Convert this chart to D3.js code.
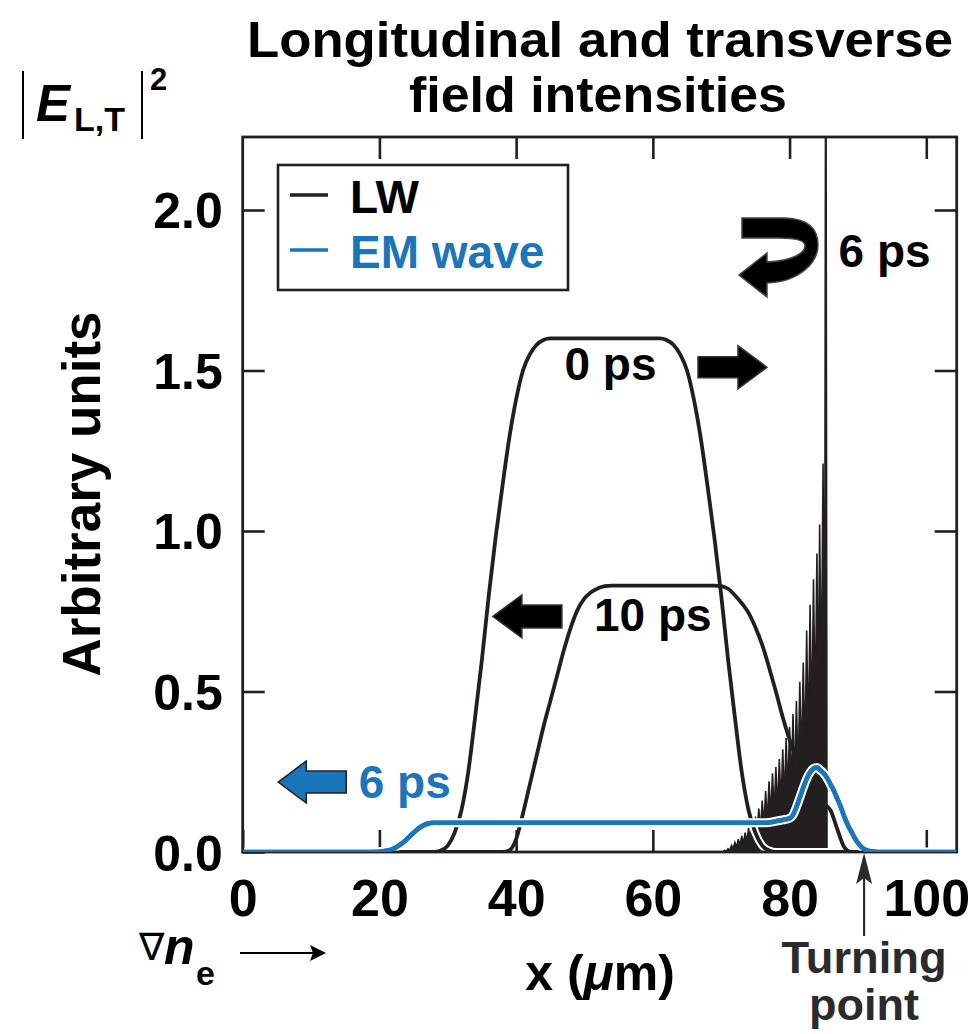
<!DOCTYPE html>
<html>
<head>
<meta charset="utf-8">
<script src="https://cdn.jsdelivr.net/npm/d3@7"></script>
<style>
  html, body { margin: 0; padding: 0; background: #fff; }
  svg { display: block; font-family: "Liberation Sans", Arial, Helvetica, sans-serif; font-weight: bold; }
</style>
</head>
<body>
<svg id="chart" width="978" height="1034"></svg>
<script>
// x in um, intensity in arbitrary units
const lw0ps = [[0,0],[28,0],[29,0.005],[30,0.02],[31,0.06],[32,0.13],[33,0.25],[34,0.42],[35,0.6],[36,0.8],
    [37,0.98],[38,1.14],[39,1.29],[40,1.41],[41,1.5],[42,1.55],[43,1.58],[44,1.595],[45,1.6],[61,1.6],
    [62,1.595],[63,1.58],[64,1.55],[65,1.5],[66,1.41],[67,1.29],[68,1.14],[69,0.98],[70,0.8],[71,0.6],
    [72,0.42],[73,0.25],[74,0.13],[75,0.06],[76,0.02],[77,0.005],[78,0],[104.45,0]];

const lw10ps = [[0,0],[38,0],[39,0.005],[40,0.04],[41,0.12],[42,0.21],[43,0.3],[44,0.39],[45,0.47],[46,0.55],
    [47,0.63],[48,0.7],[49,0.755],[50,0.79],[51,0.81],[52,0.822],[53,0.828],[54,0.83],[69,0.83],[70,0.828],
    [71,0.82],[72,0.8],[73,0.775],[74,0.745],[75,0.7],[76,0.645],[77,0.575],[78,0.5],[79,0.42],[80,0.35],
    [81,0.29],[82,0.24],[83,0.2],[84,0.17],[85,0.15],[86,0.13],[87,0.07],[88,0.015],[89,0],[104.45,0]];

// 6 ps LW: fast oscillation, alternating peaks and troughs
const lw6ps = [[0,0],[70.3,0],[70.5,0.005],[70.75,0.002],[71.0,0.01],[71.25,0.005],[71.5,0.02],[71.75,0.01],
    [72.0,0.03],[72.25,0.015],[72.5,0.04],[72.75,0.02],[73.0,0.05],[73.25,0.025],[73.5,0.06],[73.75,0.03],
    [74.0,0.075],[74.25,0.037],[74.5,0.09],[74.75,0.045],[75.0,0.11],[75.25,0.055],[75.5,0.135],[75.75,0.067],
    [76.0,0.16],[76.25,0.08],[76.5,0.19],[76.75,0.095],[77.0,0.22],[77.25,0.11],[77.5,0.245],[77.75,0.122],
    [78.0,0.265],[78.25,0.132],[78.5,0.29],[78.75,0.145],[79.0,0.32],[79.25,0.16],[79.5,0.355],[79.75,0.178],
    [80.0,0.39],[80.25,0.195],[80.5,0.43],[80.75,0.215],[81.0,0.47],[81.25,0.235],[81.5,0.53],[81.75,0.265],
    [82.0,0.59],[82.25,0.295],[82.5,0.69],[82.75,0.345],[83.0,0.77],[83.25,0.385],[83.5,0.85],[83.75,0.425],
    [84.0,0.93],[84.2,0.465],[84.4,1.02],[84.65,0.51],[84.9,1.21],[85.12,0.3],[85.3,3.0],[85.48,0],[104.45,0]];

const em6ps = [[0,0],[18,0],[20,0.001],[21,0.004],[22,0.01],[23,0.022],[24,0.04],[25,0.06],[26,0.078],
    [27,0.088],[28,0.091],[30,0.091],[76,0.091],[77,0.092],[78,0.096],[79,0.1],[80,0.105],[80.5,0.115],
    [81,0.14],[81.5,0.17],[82,0.2],[82.5,0.228],[83,0.248],[83.5,0.26],[84,0.263],[84.5,0.255],[85,0.245],
    [85.5,0.23],[86,0.21],[86.5,0.19],[87,0.165],[87.5,0.14],[88,0.11],[88.5,0.085],[89,0.065],[89.5,0.045],
    [90,0.028],[90.5,0.016],[91,0.008],[92,0.002],[93,0],[104.45,0]];

const xTicks = [0, 20, 40, 60, 80, 100];
const yTicks = [0, 0.5, 1.0, 1.5, 2.0];
const legendLabels = ["LW", "EM wave"];

const ink = "#231f20";
const blue = "#1b75bb";

const svg = d3.select("#chart");
const plotLeft = 242.7, plotRight = 956.7, plotTop = 137, plotBottom = 852;

const x = d3.scaleLinear().domain([0, 104.45]).range([plotLeft, plotRight]);
const y = d3.scaleLinear().domain([0, 2.2274]).range([plotBottom, plotTop]);

svg.append("defs").append("clipPath")
    .attr("id", "plot-clip")
  .append("rect")
    .attr("x", plotLeft).attr("y", plotTop)
    .attr("width", plotRight - plotLeft).attr("height", plotBottom - plotTop);

// axes: inward ticks on all four sides
const tickLen = 22;
const axisStyle = g => {
    g.select(".domain").remove();
    g.selectAll(".tick line").attr("stroke", ink).attr("stroke-width", 2.6);
    g.selectAll("text").attr("fill", "#000").attr("font-weight", "bold");
};

svg.append("g")
    .attr("transform", `translate(0,${plotBottom})`)
    .call(d3.axisBottom(x).tickValues(xTicks).tickSize(-tickLen).tickPadding(27).tickFormat(d3.format("d")))
    .call(axisStyle)
    .call(g => g.selectAll("text").attr("font-size", 52).attr("font-family", null));

svg.append("g")
    .attr("transform", `translate(${plotLeft},0)`)
    .call(d3.axisLeft(y).tickValues(yTicks).tickSize(-tickLen).tickPadding(20).tickFormat(d3.format(".1f")))
    .call(axisStyle)
    .call(g => g.selectAll("text").attr("font-size", 50).attr("font-family", null).attr("dy", "0.36em"));

svg.append("g")
    .attr("transform", `translate(0,${plotTop})`)
    .call(d3.axisTop(x).tickValues(xTicks.slice(1)).tickSize(-tickLen).tickFormat(""))
    .call(axisStyle);

svg.append("g")
    .attr("transform", `translate(${plotRight},0)`)
    .call(d3.axisRight(y).tickValues(yTicks.slice(1)).tickSize(-tickLen).tickFormat(""))
    .call(axisStyle);

// curves
const plot = svg.append("g").attr("clip-path", "url(#plot-clip)");

const smooth = d3.line().x(d => x(d[0])).y(d => y(d[1])).curve(d3.curveMonotoneX);
const sharp = d3.line().x(d => x(d[0])).y(d => y(d[1]));
const sharpArea = d3.area().x(d => x(d[0])).y0(y(0)).y1(d => y(d[1]));

plot.append("path")
    .attr("d", sharpArea(lw6ps))
    .attr("fill", ink);
plot.append("path")
    .attr("d", sharp(lw6ps))
    .attr("fill", "none")
    .attr("stroke", ink)
    .attr("stroke-width", 1.6);

plot.append("path")
    .attr("d", smooth(lw0ps))
    .attr("fill", "none")
    .attr("stroke", "#fff")
    .attr("stroke-width", 8);
plot.append("path")
    .attr("d", smooth(lw0ps))
    .attr("fill", "none")
    .attr("stroke", ink)
    .attr("stroke-width", 3.8);
plot.append("path")
    .attr("d", smooth(lw10ps))
    .attr("fill", "none")
    .attr("stroke", ink)
    .attr("stroke-width", 3.8);

plot.append("path")
    .attr("d", smooth(em6ps))
    .attr("fill", "none")
    .attr("stroke", "#fff")
    .attr("stroke-width", 9);
plot.append("path")
    .attr("d", smooth(em6ps))
    .attr("fill", "none")
    .attr("stroke", blue)
    .attr("stroke-width", 4.6);

// frame
svg.append("rect")
    .attr("x", plotLeft).attr("y", plotTop)
    .attr("width", plotRight - plotLeft).attr("height", plotBottom - plotTop)
    .attr("fill", "none")
    .attr("stroke", ink)
    .attr("stroke-width", 2.8);

// blue curve sits on top of the bottom frame line at both ends
svg.append("path")
    .attr("d", smooth(em6ps))
    .attr("fill", "none")
    .attr("stroke", blue)
    .attr("stroke-width", 4.6)
    .attr("clip-path", "url(#plot-clip)");

// block arrows
function blockArrow(tx, ty, dir, headL, headH, shaftL, shaftH)
{
    const bx = tx - dir * headL, ex = bx - dir * shaftL;
    return `M${tx},${ty} L${bx},${ty - headH / 2} L${bx},${ty - shaftH / 2} L${ex},${ty - shaftH / 2}`
        + ` L${ex},${ty + shaftH / 2} L${bx},${ty + shaftH / 2} L${bx},${ty + headH / 2} Z`;
}

svg.append("path")
    .attr("d", blockArrow(x(76.7), y(1.51), 1, 29, 43, 40, 21))
    .attr("fill", "#000").attr("stroke", "#333").attr("stroke-width", 1.5);
svg.append("path")
    .attr("d", blockArrow(x(36.6), y(0.734), -1, 29, 43, 40, 23))
    .attr("fill", "#000").attr("stroke", "#333").attr("stroke-width", 1.5);
svg.append("path")
    .attr("d", blockArrow(x(5.2), y(0.218), -1, 28, 42, 40, 22))
    .attr("fill", blue).attr("stroke", ink).attr("stroke-width", 1.6);

// U-turn arrow for the reflected LW
svg.append("path")
    .attr("transform", `translate(${x(73.04)},${y(1.975)})`)
    .attr("d", "M0,0 L43,0 C70,1 76,14 76,27 C76,44 58,64 25,65 L25,79 L-3,57 L25,35 L25,44 "
        + "C48,43 64,36 63,27 C62,22 53,20 38,20 L0,20 Z")
    .attr("fill", "#000").attr("stroke", "#444").attr("stroke-width", 1.5);

// curve labels
const curveLabels = [
    { text: "0 ps", at: [53.8, 1.47], color: "#000" },
    { text: "10 ps", at: [60.0, 0.69], color: "#000" },
    { text: "6 ps", at: [93.9, 1.822], color: "#000" },
    { text: "6 ps", at: [23.7, 0.168], color: blue }
];
svg.append("g")
    .attr("font-size", 46)
    .attr("text-anchor", "middle")
  .selectAll("text")
  .data(curveLabels)
  .join("text")
    .attr("x", d => x(d.at[0]))
    .attr("y", d => y(d.at[1]))
    .attr("fill", d => d.color)
    .text(d => d.text);

// legend
const legend = svg.append("g");
legend.append("rect")
    .attr("x", 278).attr("y", 165)
    .attr("width", 290).attr("height", 125)
    .attr("fill", "#fff")
    .attr("stroke", ink)
    .attr("stroke-width", 2.6);
legend.selectAll("g")
  .data(legendLabels)
  .join("g")
    .attr("transform", (d, i) => `translate(0,${195 + i * 55})`)
    .call(g => g.append("line")
        .attr("x1", 290).attr("x2", 328)
        .attr("stroke", (d, i) => i ? blue : ink)
        .attr("stroke-width", 3.6))
    .call(g => g.append("text")
        .attr("x", 350).attr("y", 18)
        .attr("font-size", 46)
        .attr("fill", (d, i) => i ? blue : "#000")
        .text(d => d));

// title
svg.append("text")
    .attr("x", 600).attr("y", 57)
    .attr("text-anchor", "middle")
    .attr("font-size", 50)
    .attr("textLength", 706).attr("lengthAdjust", "spacingAndGlyphs")
    .text("Longitudinal and transverse");
svg.append("text")
    .attr("x", 598).attr("y", 112)
    .attr("text-anchor", "middle")
    .attr("font-size", 50)
    .attr("textLength", 378).attr("lengthAdjust", "spacingAndGlyphs")
    .text("field intensities");

// |E_L,T|^2
const eLabel = svg.append("g");
eLabel.selectAll("line")
  .data([23, 142])
  .join("line")
    .attr("x1", d => d).attr("x2", d => d)
    .attr("y1", 71).attr("y2", 139)
    .attr("stroke", "#000").attr("stroke-width", 2);
eLabel.append("text")
    .attr("x", 36).attr("y", 121)
    .attr("font-size", 51).attr("font-style", "italic")
    .text("E");
eLabel.append("text")
    .attr("x", 74).attr("y", 131)
    .attr("font-size", 34)
    .text("L,T");
eLabel.append("text")
    .attr("x", 150).attr("y", 90)
    .attr("font-size", 31)
    .text("2");

// y axis title
svg.append("text")
    .attr("transform", "translate(100,494) rotate(-90)")
    .attr("text-anchor", "middle")
    .attr("font-size", 53)
    .attr("textLength", 365).attr("lengthAdjust", "spacingAndGlyphs")
    .text("Arbitrary units");

// x axis title
svg.append("text")
    .attr("x", 600).attr("y", 990)
    .attr("text-anchor", "middle")
    .attr("font-size", 50)
    .call(t => t.append("tspan").text("x ("))
    .call(t => t.append("tspan").attr("font-style", "italic").text("\u03bc"))
    .call(t => t.append("tspan").text("m)"));

// density gradient note
const grad = svg.append("g");
grad.append("text")
    .attr("x", 139).attr("y", 960)
    .attr("font-size", 38).attr("font-weight", "normal")
    .attr("font-family", "DejaVu Sans, sans-serif")
    .text("\u2207");
grad.append("text")
    .attr("x", 164).attr("y", 964)
    .attr("font-size", 50).attr("font-style", "italic")
    .text("n");
grad.append("text")
    .attr("x", 196).attr("y", 985)
    .attr("font-size", 34)
    .text("e");
grad.append("line")
    .attr("x1", 240).attr("x2", 314)
    .attr("y1", 953).attr("y2", 953)
    .attr("stroke", "#000").attr("stroke-width", 2);
grad.append("path")
    .attr("d", "M326,953 L310,945 L313,953 L310,961 Z")
    .attr("fill", "#000");

// turning point
const tpX = x(90.9);
svg.append("line")
    .attr("x1", tpX).attr("x2", tpX)
    .attr("y1", 936).attr("y2", 876)
    .attr("stroke", "#2b2b2b").attr("stroke-width", 2.2);
svg.append("path")
    .attr("d", `M${tpX},${plotBottom + 1} L${tpX - 8},${plotBottom + 32} L${tpX},${plotBottom + 26} L${tpX + 8},${plotBottom + 32} Z`)
    .attr("fill", "#2b2b2b");
svg.append("g")
    .attr("text-anchor", "middle")
    .attr("font-size", 44)
    .attr("fill", "#2b2b2b")
  .selectAll("text")
  .data(["Turning", "point"])
  .join("text")
    .attr("x", tpX)
    .attr("y", (d, i) => 973 + i * 47)
    .attr("textLength", (d, i) => i ? 110 : 165)
    .attr("lengthAdjust", "spacingAndGlyphs")
    .text(d => d);
</script>
</body>
</html>
